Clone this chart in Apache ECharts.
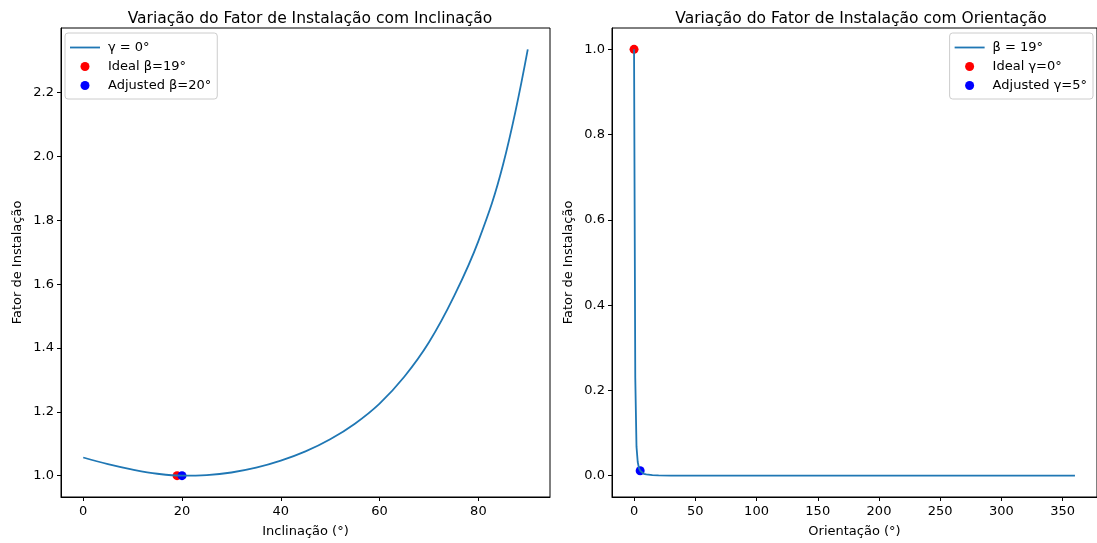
<!DOCTYPE html>
<html>
<head>
<meta charset="utf-8">
<script src="https://cdn.jsdelivr.net/npm/echarts@6/dist/echarts.min.js"></script>
<style>html,body{margin:0;padding:0;background:#fff}#c{width:1097px;height:543px}</style>
</head>
<body>
<div id="c"></div>
<script>
// Left panel: tilt (Inclinação) vs installation factor
const tiltDeg = [0, 5, 10, 15, 20, 25, 30, 35, 40, 45, 50, 55, 60, 65, 70, 75, 80, 85, 90];
const tiltFactor = [1.057, 1.036, 1.019, 1.006, 1.000, 1.002, 1.010, 1.025, 1.047, 1.076, 1.114, 1.163, 1.226, 1.310, 1.418, 1.560, 1.735, 1.975, 2.336];
const tiltIdeal = [19, 1.000];
const tiltAdjusted = [20, 1.000];
const tiltXTicks = [0, 20, 40, 60, 80];
const tiltYTicks = [1.0, 1.2, 1.4, 1.6, 1.8, 2.0, 2.2];

// Right panel: orientation (Orientação) vs installation factor
const orientDeg = [0, 1, 2, 3, 4, 5, 6, 8, 10, 15, 20, 30, 50, 100, 150, 200, 250, 300, 360];
const orientFactor = [1.000, 0.230, 0.068, 0.032, 0.018, 0.0116, 0.008, 0.0045, 0.003, 0.0013, 0.0007, 0.0003, 0.0001, 0.0, 0.0, 0.0, 0.0, 0.0, 0.0];
const orientIdeal = [0, 1.000];
const orientAdjusted = [5, 0.0116];
const orientXTicks = [0, 50, 100, 150, 200, 250, 300, 350];
const orientYTicks = [0.0, 0.2, 0.4, 0.6, 0.8, 1.0];

const FONT = 'DejaVu Sans';
const FS = 13;
const LINE_ICON = 'path://M0,0 H30 V1.8 H0 Z';
const zip = (a, b) => a.map((v, i) => [v, b[i]]);

function xAx(idx, min, max, ticks, name) {
  return {
    type: 'value', gridIndex: idx, min: min, max: max,
    name: name, nameLocation: 'middle', nameGap: 28,
    nameTextStyle: {fontFamily: FONT, fontSize: FS, color: '#000'},
    axisLine: {show: true, onZero: false, lineStyle: {color: '#000', width: 1}},
    axisTick: {show: true, customValues: ticks, length: 4, lineStyle: {color: '#000'}},
    axisLabel: {customValues: ticks, margin: 8, fontFamily: FONT, fontSize: FS, color: '#000'},
    splitLine: {show: false}
  };
}
function yAx(idx, min, max, ticks, name) {
  return {
    type: 'value', gridIndex: idx, min: min, max: max,
    name: name, nameLocation: 'middle', nameGap: 37,
    nameTextStyle: {fontFamily: FONT, fontSize: FS, color: '#000'},
    axisLine: {show: true, onZero: false, lineStyle: {color: '#000', width: 1}},
    axisTick: {show: true, customValues: ticks, length: 4, lineStyle: {color: '#000'}},
    axisLabel: {customValues: ticks, margin: 7, fontFamily: FONT, fontSize: FS, color: '#000',
      formatter: v => Number(v).toFixed(1)},
    splitLine: {show: false}
  };
}
function legendOf(pos, names) {
  return Object.assign({
    orient: 'vertical', top: 33, itemWidth: 30, itemHeight: 9, itemGap: 6,
    padding: [8, 6, 7, 5], borderColor: '#ccc', borderWidth: 1, borderRadius: 3,
    backgroundColor: 'rgba(255,255,255,0.8)',
    textStyle: {fontFamily: FONT, fontSize: FS, color: '#000', padding: [0, 0, 0, 3]},
    data: [{name: names[0], icon: LINE_ICON}, {name: names[1], icon: 'circle'}, {name: names[2], icon: 'circle'}]
  }, pos);
}

const chart = echarts.init(document.getElementById('c'), null, {renderer: 'canvas'});
chart.setOption({
  animation: false,
  backgroundColor: '#fff',
  title: [
    {text: 'Variação do Fator de Instalação com Inclinação', left: 305, top: 6, textAlign: 'center',
     textStyle: {fontFamily: FONT, fontSize: 15.5, fontWeight: 'normal', color: '#000'}},
    {text: 'Variação do Fator de Instalação com Orientação', left: 856, top: 6, textAlign: 'center',
     textStyle: {fontFamily: FONT, fontSize: 15.5, fontWeight: 'normal', color: '#000'}}
  ],
  grid: [
    {left: 61, top: 28, width: 489, height: 472, show: true, borderColor: '#000', borderWidth: 1, backgroundColor: 'transparent'},
    {left: 612, top: 28, width: 487, height: 472, show: true, borderColor: '#000', borderWidth: 1, backgroundColor: 'transparent'}
  ],
  xAxis: [
    xAx(0, -4.5, 94.5, tiltXTicks, 'Inclinação (°)'),
    xAx(1, -18, 378, orientXTicks, 'Orientação (°)')
  ],
  yAxis: [
    yAx(0, 0.9332, 2.4028, tiltYTicks, 'Fator de Instalação'),
    yAx(1, -0.05, 1.05, orientYTicks, 'Fator de Instalação')
  ],
  legend: [
    legendOf({left: 65}, ['γ = 0°', 'Ideal β=19°', 'Adjusted β=20°']),
    legendOf({right: 4}, ['β = 19°', 'Ideal γ=0°', 'Adjusted γ=5°'])
  ],
  series: [
    {name: 'γ = 0°', type: 'line', xAxisIndex: 0, yAxisIndex: 0, data: zip(tiltDeg, tiltFactor),
     smooth: 0.4, symbol: 'none', lineStyle: {color: '#1f77b4', width: 1.8}, itemStyle: {color: '#1f77b4'}},
    {name: 'Ideal β=19°', type: 'scatter', xAxisIndex: 0, yAxisIndex: 0, data: [tiltIdeal],
     symbolSize: 9, itemStyle: {color: 'red', opacity: 1}},
    {name: 'Adjusted β=20°', type: 'scatter', xAxisIndex: 0, yAxisIndex: 0, data: [tiltAdjusted],
     symbolSize: 9, itemStyle: {color: 'blue', opacity: 1}},
    {name: 'β = 19°', type: 'line', xAxisIndex: 1, yAxisIndex: 1, data: zip(orientDeg, orientFactor),
     smooth: false, symbol: 'none', lineStyle: {color: '#1f77b4', width: 1.8}, itemStyle: {color: '#1f77b4'}},
    {name: 'Ideal γ=0°', type: 'scatter', xAxisIndex: 1, yAxisIndex: 1, data: [orientIdeal],
     symbolSize: 9, itemStyle: {color: 'red', opacity: 1}},
    {name: 'Adjusted γ=5°', type: 'scatter', xAxisIndex: 1, yAxisIndex: 1, data: [orientAdjusted],
     symbolSize: 9, itemStyle: {color: 'blue', opacity: 1}}
  ]
});
</script>
</body>
</html>
